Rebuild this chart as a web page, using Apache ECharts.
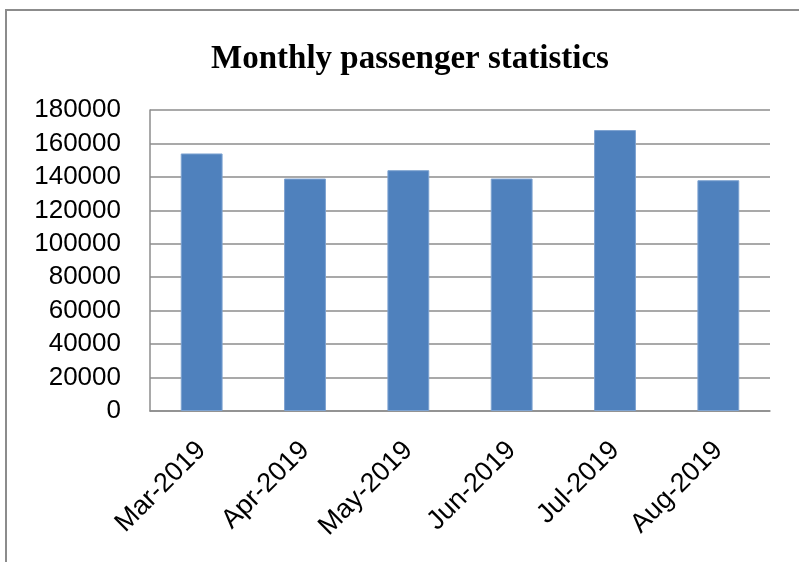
<!DOCTYPE html>
<html><head><meta charset="utf-8">
<script src="https://cdn.jsdelivr.net/npm/echarts@6/dist/echarts.min.js"></script>
<style>
html,body{margin:0;padding:0;background:#fff;}
#frame{position:absolute;left:5px;top:9px;width:800px;height:560px;border-left:2px solid #8c8c8c;border-top:2px solid #8c8c8c;box-sizing:border-box;}
#c{position:absolute;left:0;top:0;width:799px;height:562px;}
</style></head>
<body>
<div id="frame"></div>
<div id="c"></div>
<script>
const categories = ['Mar-2019','Apr-2019','May-2019','Jun-2019','Jul-2019','Aug-2019'];
const passengers = [154000, 139000, 144000, 139000, 168000, 138000];
const chart = echarts.init(document.getElementById('c'));
chart.setOption({
  animation:false,
  title:{text:'Monthly passenger statistics',left:405,top:38,textAlign:'center',
    textStyle:{fontFamily:'Liberation Serif',fontWeight:'bold',fontSize:33,color:'#000'}},
  grid:{left:150,right:29,top:110,bottom:151,containLabel:false},
  xAxis:{type:'category',data:categories,
    axisLine:{lineStyle:{color:'#8c8c8c',width:1.5}},
    axisTick:{show:false},
    axisLabel:{rotate:45,fontFamily:'Liberation Sans',fontSize:27,color:'#000',margin:35,interval:0}},
  yAxis:{type:'value',min:0,max:180000,interval:20000,
    axisLine:{show:true,lineStyle:{color:'#8c8c8c',width:1.5}},
    axisTick:{show:false},
    splitLine:{lineStyle:{color:'#8c8c8c',width:1.5}},
    axisLabel:{fontFamily:'Liberation Sans',fontSize:26,color:'#000',margin:29,
      formatter:function(v){return String(v);}}},
  series:[{type:'bar',data:passengers,barWidth:'40.5%',
    itemStyle:{color:'#4f81bd',borderColor:'#7ea3d1',borderWidth:1}}]
});
</script>
</body></html>
